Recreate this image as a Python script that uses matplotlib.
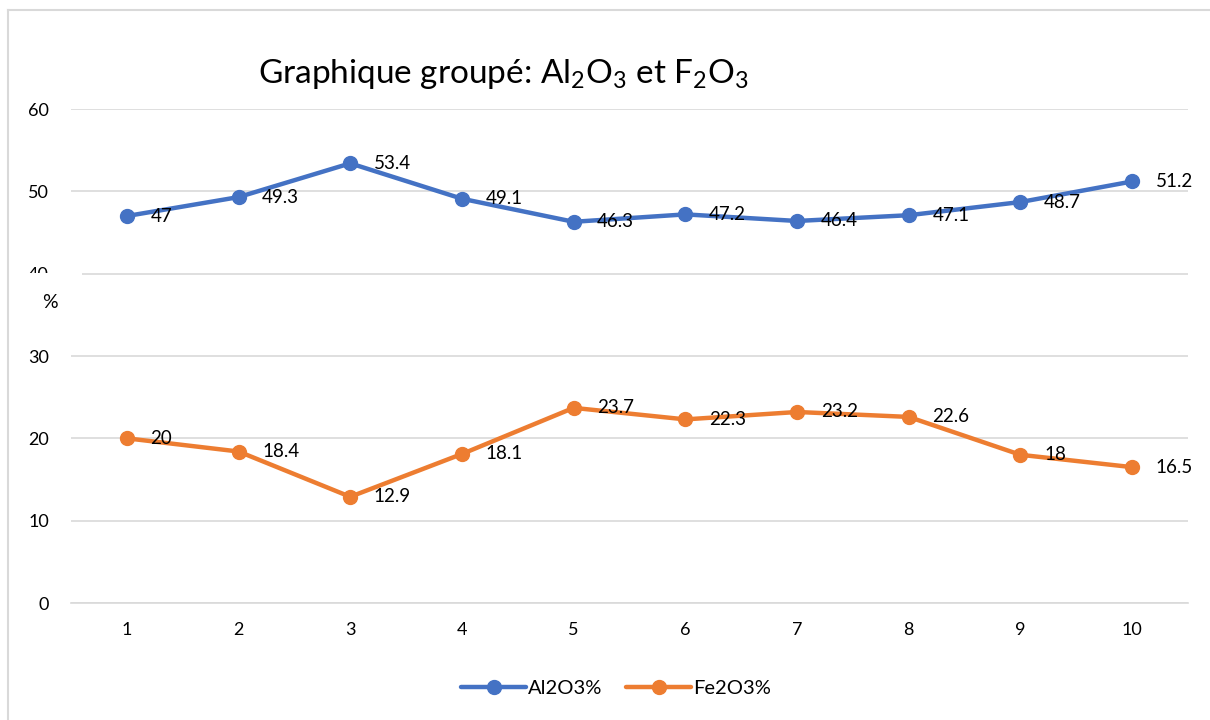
import matplotlib
matplotlib.use("Agg")
import matplotlib.pyplot as plt
from matplotlib.patches import Rectangle
from matplotlib.lines import Line2D

categories = [1, 2, 3, 4, 5, 6, 7, 8, 9, 10]
al2o3 = [47, 49.3, 53.4, 49.1, 46.3, 47.2, 46.4, 47.1, 48.7, 51.2]
fe2o3 = [20, 18.4, 12.9, 18.1, 23.7, 22.3, 23.2, 22.6, 18, 16.5]
yticks = [0, 10, 20, 30, 40, 50, 60]
series_names = ["Al2O3%", "Fe2O3%"]

plt.rcParams['font.family'] = ['Lato', 'DejaVu Sans']
W, H = 1210, 720
fig = plt.figure(figsize=(12.1, 7.2), dpi=100)
ax = fig.add_axes([71 / W, 1 - 603 / H, (1188 - 71) / W, (603 - 109) / H])

blue = "#4472C4"
orange = "#ED7D31"
grid = "#D9D9D9"

for vals, col, name in [(al2o3, blue, series_names[0]), (fe2o3, orange, series_names[1])]:
    ax.plot(categories, vals, color=col, lw=3.2, marker='o', ms=10, label=name,
            solid_capstyle='round', zorder=3)
    for x, v in zip(categories, vals):
        ax.annotate(f"{v:g}", (x, v), xytext=(17, 0), textcoords='offset points',
                    ha='left', va='center', fontsize=13.5, color='black', zorder=4)

ax.set_xlim(0.5, 10.5)
ax.set_ylim(0, 60)
ax.set_yticks(yticks)
ax.set_xticks(categories)
ax.tick_params(axis='both', length=0, labelsize=13)
ax.tick_params(axis='y', pad=16)
ax.tick_params(axis='x', pad=14)
ax.grid(axis='y', color=grid, lw=1.2)
ax.set_axisbelow(True)
for s in ['top', 'right', 'left']:
    ax.spines[s].set_visible(False)
ax.spines['bottom'].set_color(grid)
ax.spines['bottom'].set_linewidth(1.2)

# chart border (top and left)
fig.add_artist(Line2D([8 / W, 8 / W], [0, 1 - 10 / H], color=grid, lw=1.5))
fig.add_artist(Line2D([8 / W, 1], [1 - 10 / H, 1 - 10 / H], color=grid, lw=1.5))

# white box of axis title covering part of the "40" label
box = Rectangle((10 / W, 1 - 330 / H), (82 - 10) / W, (330 - 273) / H,
                transform=fig.transFigure, facecolor='white', edgecolor='none', zorder=5)
fig.add_artist(box)
fig.text(50 / W, 1 - 302 / H, "%", ha='center', va='center', fontsize=14, zorder=6)

fig.text(258 / W, 1 - 74 / H,
         r"Graphique groupé: Al$_\mathregular{2}$O$_\mathregular{3}$ et F$_\mathregular{2}$O$_\mathregular{3}$",
         ha='left', va='center', fontsize=24)

leg = fig.legend(loc='center', bbox_to_anchor=(616 / W, 1 - 688 / H), ncol=2, frameon=False,
                 fontsize=14.5, handlelength=3.2, columnspacing=1.2, handletextpad=0.1)

fig.savefig("out.png", dpi=100, facecolor='white')
